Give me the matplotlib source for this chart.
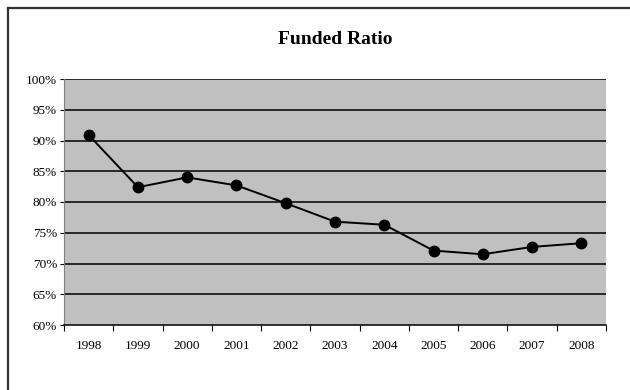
import numpy as np
import matplotlib.pyplot as plt
from matplotlib.lines import Line2D
from matplotlib.ticker import FixedLocator

# data
years = ['1998', '1999', '2000', '2001', '2002', '2003', '2004', '2005', '2006', '2007', '2008']
funded = [90.9, 82.4, 84.0, 82.7, 79.8, 76.8, 76.3, 72.1, 71.5, 72.7, 73.3]
yticks = [60, 65, 70, 75, 80, 85, 90, 95, 100]

plt.rcParams['font.family'] = ['Liberation Serif', 'DejaVu Serif']

fig = plt.figure(figsize=(6.3, 3.9), dpi=100)
ax = fig.add_axes([64 / 630, 65 / 390, 542 / 630, 246 / 390])
ax.set_facecolor('#C0C0C0')

x = np.arange(len(years))
ax.plot(x, funded, color='black', lw=1.4, marker='o', ms=7.5, zorder=3)

# y axis
ax.set_ylim(60, 100)
ax.set_yticks(yticks)
ax.set_yticklabels([f'{v}%' for v in yticks], fontsize=9.5)
ax.tick_params(axis='y', length=3, width=0.8, pad=2)
for v in yticks[1:]:
    ax.axhline(v, color='black', lw=1.1, zorder=1)

# x axis: labels at centres, tick marks between categories
ax.set_xlim(-0.5, len(years) - 0.5)
ax.set_xticks(x)
ax.set_xticklabels(years, fontsize=9.5)
ax.tick_params(axis='x', length=0, pad=11)
ax.xaxis.set_minor_locator(FixedLocator(np.arange(-0.5, len(years), 1.0)))
ax.tick_params(axis='x', which='minor', length=4, width=0.8, direction='out')

ax.spines['top'].set_visible(False)
ax.spines['right'].set_visible(False)
ax.spines['left'].set_color('#808080')
ax.spines['bottom'].set_color('black')
ax.spines['bottom'].set_linewidth(1.1)

fig.text(335 / 630, 1 - 40 / 390, 'Funded Ratio', ha='center', va='center',
         fontsize=14, fontweight='bold')

# outer chart frame (top and left edges)
fig.add_artist(Line2D([8 / 630, 1], [1 - 8 / 390, 1 - 8 / 390], color='#333333', lw=1.6))
fig.add_artist(Line2D([8 / 630, 8 / 630], [0, 1 - 8 / 390], color='#333333', lw=1.6))

fig.savefig('out.png', dpi=100)
